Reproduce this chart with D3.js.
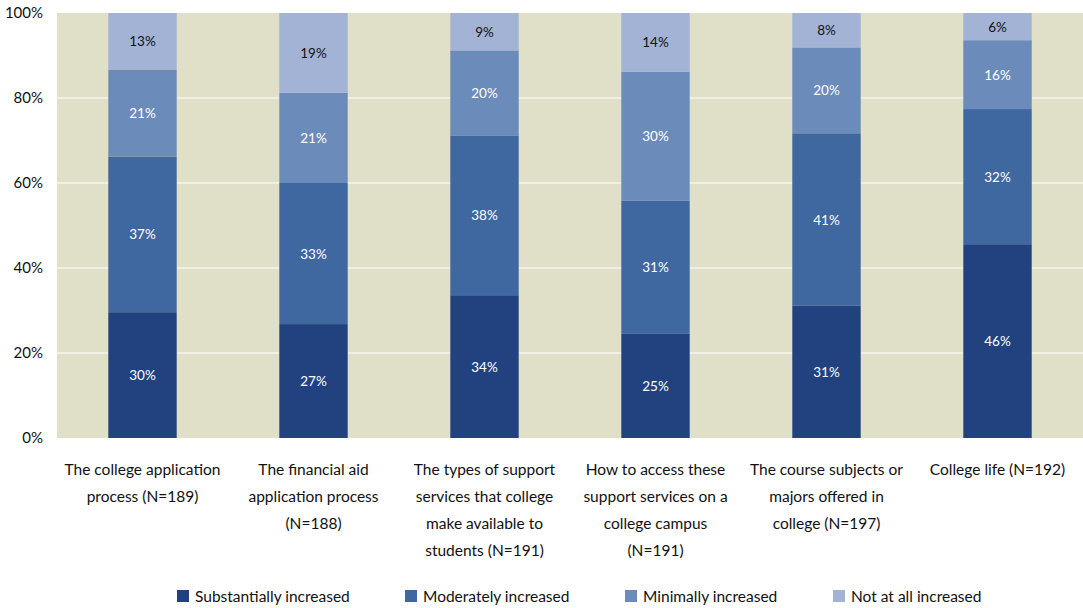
<!DOCTYPE html>
<html><head><meta charset="utf-8">
<script src="https://cdn.jsdelivr.net/npm/d3@7"></script>
<style>body{margin:0;background:#fff}svg{display:block;font-family:Lato,"Open Sans",sans-serif}</style>
</head><body><svg id="c" width="1083" height="608"></svg>
<script>
const categories = [
  ["The college application","process (N=189)"],
  ["The financial aid","application process","(N=188)"],
  ["The types of support","services that college","make available to","students (N=191)"],
  ["How to access these","support services on a","college campus","(N=191)"],
  ["The course subjects or","majors offered in","college (N=197)"],
  ["College life (N=192)"]
];
const seriesNames = ["Substantially increased","Moderately increased","Minimally increased","Not at all increased"];
const substantially = [29.6, 26.8, 33.6, 24.5, 31.1, 45.6];
const moderately    = [36.6, 33.2, 37.6, 31.3, 40.6, 31.8];
const minimally     = [20.5, 21.2, 20.0, 30.4, 20.2, 16.2];
const notAtAll      = [13.3, 18.8,  8.8, 13.8,  8.1,  6.4];
const yTicks = [0, 20, 40, 60, 80, 100];
const colors = ["#22427f", "#3f67a0", "#6b8bba", "#a2b3d6"];
const labelColors = ["#ffffff", "#ffffff", "#ffffff", "#111111"];

const series = [substantially, moderately, minimally, notAtAll];
const rows = categories.map((c, i) => {
  const r = {idx: i};
  series.forEach((s, k) => r["s" + k] = s[i]);
  return r;
});
const keys = series.map((s, k) => "s" + k);

const svg = d3.select("#c");
const L = 57, R = 1083, T = 13, B = 438;
const x = d3.scaleBand().domain(d3.range(categories.length)).range([L, R]).paddingInner(0.6).paddingOuter(0.3);
const y = d3.scaleLinear().domain([0, 100]).range([B, T]);

svg.append("rect").attr("x", L).attr("y", T).attr("width", R - L).attr("height", B - T).attr("fill", "#dfe0c7");
svg.append("g").selectAll("line").data(yTicks.filter(d => d > 0 && d < 100)).join("line")
  .attr("x1", L).attr("x2", R).attr("y1", d => y(d)).attr("y2", d => y(d))
  .attr("stroke", "#ffffff").attr("stroke-width", 1.2);

const yAxis = svg.append("g").attr("transform", `translate(${L},0)`)
  .call(d3.axisLeft(y).tickValues(yTicks).tickFormat(d => d + "%").tickSize(0).tickPadding(14));
yAxis.select(".domain").remove();
yAxis.selectAll("text").attr("font-size", 15).attr("fill", "#111").attr("font-family", "Lato,sans-serif");

const stack = d3.stack().keys(keys)(rows);
const g = svg.append("g");
stack.forEach((layer, k) => {
  const lg = g.append("g");
  lg.selectAll("rect").data(layer).join("rect")
    .attr("x", (d, i) => x(i)).attr("width", x.bandwidth())
    .attr("y", d => y(d[1])).attr("height", d => y(d[0]) - y(d[1]))
    .attr("fill", colors[k]);
  lg.selectAll("text").data(layer).join("text")
    .attr("x", (d, i) => x(i) + x.bandwidth() / 2)
    .attr("y", d => (y(d[0]) + y(d[1])) / 2 + 5)
    .attr("text-anchor", "middle").attr("font-size", 13.5)
    .attr("fill", labelColors[k])
    .text(d => Math.round(d[1] - d[0]) + "%");
});

const xl = svg.append("g");
categories.forEach((lines, i) => {
  const t = xl.append("text").attr("x", x(i) + x.bandwidth() / 2).attr("y", 475)
    .attr("text-anchor", "middle").attr("font-size", 15.5).attr("fill", "#111");
  lines.forEach((ln, j) => t.append("tspan").attr("x", x(i) + x.bandwidth() / 2).attr("dy", j ? 27 : 0).text(ln));
});

const legX = [177, 405, 625, 833];
const leg = svg.append("g");
seriesNames.forEach((n, k) => {
  leg.append("rect").attr("x", legX[k]).attr("y", 590).attr("width", 12).attr("height", 12).attr("fill", colors[k]);
  leg.append("text").attr("x", legX[k] + 18).attr("y", 602).attr("font-size", 15.5).attr("fill", "#111").text(n);
});
</script></body></html>
